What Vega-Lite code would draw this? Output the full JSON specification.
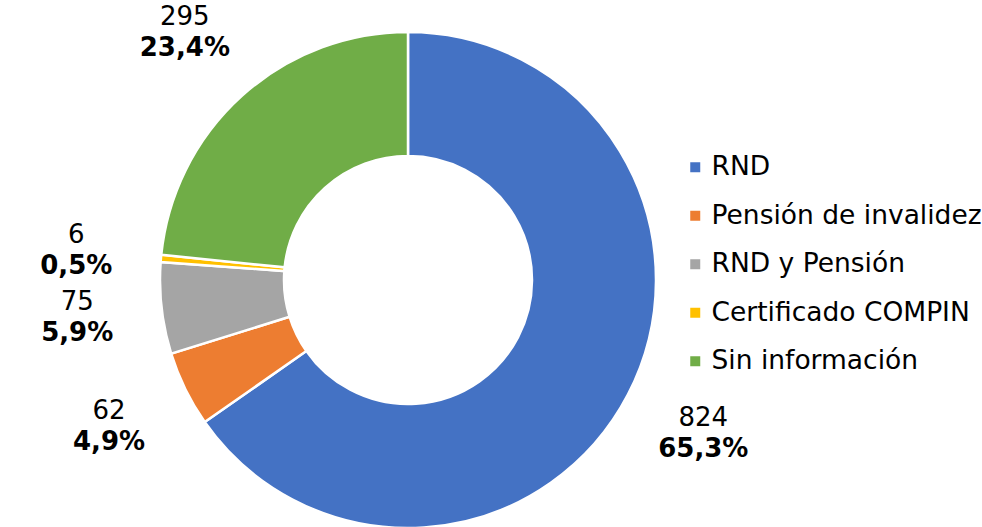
{
  "$schema": "https://vega.github.io/schema/vega-lite/v6.json",
  "width": 816,
  "height": 560,
  "autosize": {"type": "none"},
  "padding": {"left": 0, "top": 0, "right": 166, "bottom": 0},
  "background": "white",
  "config": {"view": {"stroke": null}, "font": "DejaVu Sans"},
  "data": {
    "values": [
      {"categoria": "RND", "valor": 824, "pct": "65,3%", "orden": 1},
      {"categoria": "Pensión de invalidez", "valor": 62, "pct": "4,9%", "orden": 2},
      {"categoria": "RND y Pensión", "valor": 75, "pct": "5,9%", "orden": 3},
      {"categoria": "Certificado COMPIN", "valor": 6, "pct": "0,5%", "orden": 4},
      {"categoria": "Sin información", "valor": 295, "pct": "23,4%", "orden": 5}
    ]
  },
  "encoding": {
    "theta": {"field": "valor", "type": "quantitative", "stack": true},
    "order": {"field": "orden", "type": "quantitative"}
  },
  "layer": [
    {
      "mark": {"type": "arc", "innerRadius": 124, "outerRadius": 248, "stroke": "white", "strokeWidth": 2.5},
      "encoding": {
        "color": {
          "field": "categoria",
          "type": "nominal",
          "scale": {
            "domain": ["RND", "Pensión de invalidez", "RND y Pensión", "Certificado COMPIN", "Sin información"],
            "range": ["#4472C4", "#ED7D31", "#A5A5A5", "#FFC000", "#70AD47"]
          },
          "legend": {
            "title": null,
            "orient": "none",
            "legendX": 682,
            "legendY": 154,
            "symbolType": "square",
            "symbolSize": 100,
            "symbolStrokeWidth": 0,
            "labelFontSize": 26.5,
            "labelFont": "DejaVu Sans",
            "labelColor": "#000000",
            "labelLimit": 400,
            "rowPadding": 21.5,
            "labelOffset": 3
          }
        }
      }
    },
    {
      "mark": {"type": "text", "radius": 333, "dy": -16, "fontSize": 26, "font": "DejaVu Sans", "color": "#000000"},
      "encoding": {"text": {"field": "valor", "type": "quantitative"}}
    },
    {
      "mark": {"type": "text", "radius": 333, "dy": 15, "fontSize": 26, "fontWeight": "bold", "font": "DejaVu Sans", "color": "#000000"},
      "encoding": {"text": {"field": "pct", "type": "nominal"}}
    }
  ]
}
